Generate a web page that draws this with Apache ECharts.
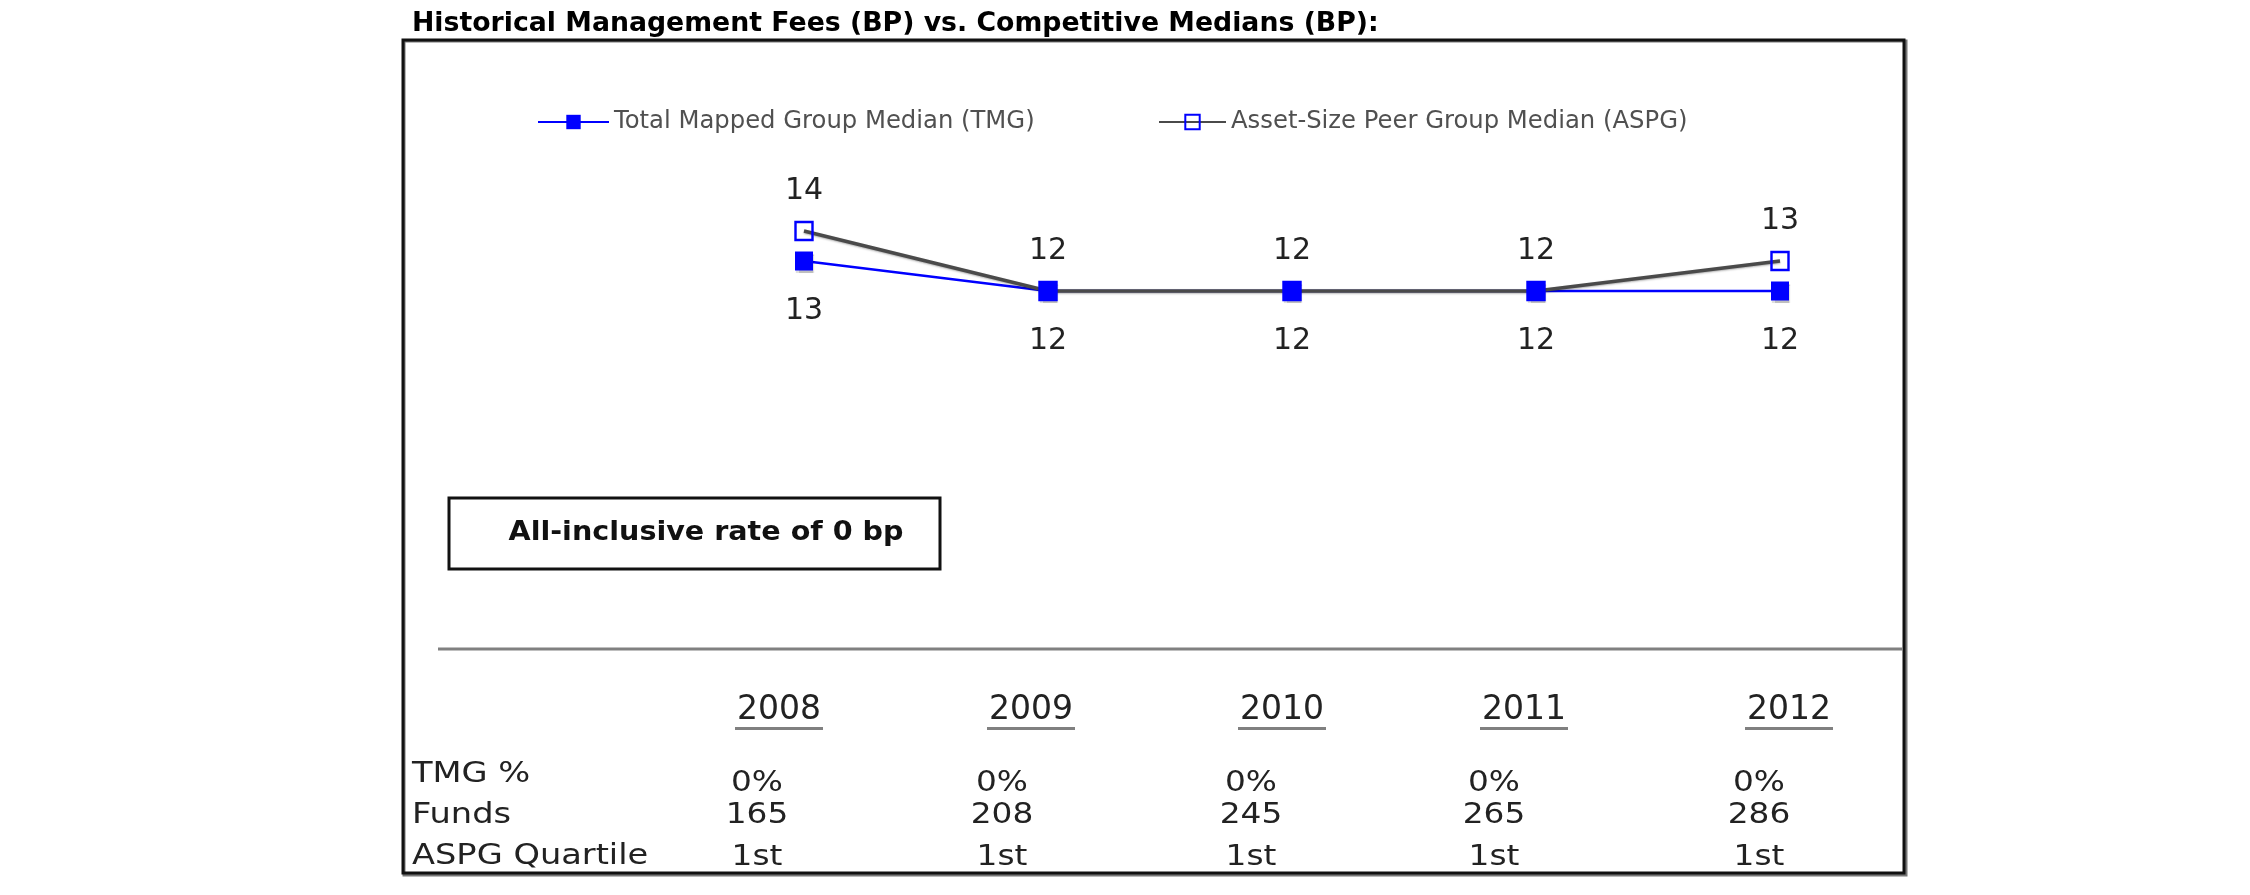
<!DOCTYPE html>
<html>
<head>
<meta charset="utf-8">
<script src="https://cdn.jsdelivr.net/npm/echarts@6/dist/echarts.min.js"></script>
<style>
html,body{margin:0;padding:0;background:#fff;}
#chart{width:2250px;height:895px;}
</style>
</head>
<body>
<div id="chart"></div>
<script>
// ---- data ----
const years = ['2008', '2009', '2010', '2011', '2012'];
const tmgMedian = [13, 12, 12, 12, 12];
const aspgMedian = [14, 12, 12, 12, 13];
const rowLabels = ['TMG %', 'Funds', 'ASPG Quartile'];
const tmgPct = ['0%', '0%', '0%', '0%', '0%'];
const funds = ['165', '208', '245', '265', '286'];
const aspgQuartile = ['1st', '1st', '1st', '1st', '1st'];
const titleText = 'Historical Management Fees (BP) vs. Competitive Medians (BP):';
const noteText = 'All-inclusive rate of 0 bp';
const tmgName = 'Total Mapped Group Median (TMG)';
const aspgName = 'Asset-Size Peer Group Median (ASPG)';

// ---- layout ----
const FONT = 'DejaVu Sans, Verdana, sans-serif';
const headerX = [779, 1031, 1282, 1524, 1789];
const valueX = [757, 1002, 1251, 1494, 1759];
const rowY = [783, 815, 857];
const labelRowY = [774, 815, 856];

const graphic = [];
// outer frame shadow + frame
graphic.push({type: 'rect', shape: {x: 404, y: 41, width: 1502, height: 834},
  style: {fill: 'none', stroke: '#777', lineWidth: 3}, z: 0});
graphic.push({type: 'rect', shape: {x: 403, y: 40, width: 1501, height: 833},
  style: {fill: 'none', stroke: '#111', lineWidth: 3}, z: 1});
// title
graphic.push({type: 'text', x: 412, y: 24, scaleX: 0.99,
  style: {text: titleText, font: 'bold 27px ' + FONT, fill: '#000', align: 'left', verticalAlign: 'middle'}});
// note box
graphic.push({type: 'rect', shape: {x: 449, y: 498, width: 491, height: 71},
  style: {fill: '#fff', stroke: '#111', lineWidth: 3}});
graphic.push({type: 'text', x: 706, y: 533, scaleX: 1.1,
  style: {text: noteText, font: 'bold 26px ' + FONT, fill: '#111', align: 'center', verticalAlign: 'middle'}});
// separator
graphic.push({type: 'line', shape: {x1: 438, y1: 649, x2: 1902, y2: 649},
  style: {stroke: '#808080', lineWidth: 3}});
// year headers with underline
years.forEach((y, i) => {
  graphic.push({type: 'text', x: headerX[i], y: 710,
    style: {text: y, font: '33px ' + FONT, fill: '#222', align: 'center', verticalAlign: 'middle'}});
  graphic.push({type: 'rect', shape: {x: headerX[i] - 44, y: 727, width: 88, height: 3},
    style: {fill: '#808080'}});
});
// row labels
rowLabels.forEach((t, r) => {
  graphic.push({type: 'text', x: 412, y: labelRowY[r], scaleX: 1.16,
    style: {text: t, font: '29px ' + FONT, fill: '#222', align: 'left', verticalAlign: 'middle'}});
});
[tmgPct, funds, aspgQuartile].forEach((row, r) => {
  row.forEach((v, i) => {
    graphic.push({type: 'text', x: valueX[i], y: rowY[r], scaleX: 1.13,
      style: {text: v, font: '29px ' + FONT, fill: '#222', align: 'center', verticalAlign: 'middle'}});
  });
});

const chart = echarts.init(document.getElementById('chart'), null, {renderer: 'canvas'});
chart.setOption({
  animation: false,
  backgroundColor: '#fff',
  grid: {left: 804, right: 470, top: 201, height: 120},
  xAxis: {type: 'category', data: years, boundaryGap: false, show: false},
  yAxis: {type: 'value', min: 11, max: 15, show: false},
  legend: [
    {data: [tmgName], left: 532, top: 105, itemWidth: 71, itemHeight: 18, itemGap: 0,
     textStyle: {fontFamily: FONT, fontSize: 24.3, color: '#505050'}},
    {data: [aspgName], left: 1153, top: 105, itemWidth: 67, itemHeight: 18, itemGap: 0,
     textStyle: {fontFamily: FONT, fontSize: 24.3, color: '#505050'}}
  ],
  graphic: graphic,
  series: [
    {
      name: tmgName, type: 'line', data: tmgMedian,
      symbol: 'rect', symbolSize: [18, 19],
      lineStyle: {color: '#0000ff', width: 2.5},
      itemStyle: {color: '#0000ff', shadowColor: 'rgba(0,0,0,0.25)', shadowOffsetX: 1, shadowOffsetY: 2, shadowBlur: 1},
      label: {show: true, position: 'bottom', distance: 26, fontFamily: FONT, fontSize: 30, color: '#222'}
    },
    {
      name: aspgName, type: 'line', data: aspgMedian,
      symbol: 'rect', symbolSize: [17, 18],
      lineStyle: {color: '#4a4a4a', width: 3.5, shadowColor: 'rgba(0,0,0,0.3)', shadowOffsetY: 1, shadowBlur: 2},
      itemStyle: {color: 'rgba(0,0,0,0)', borderColor: '#0000ff', borderWidth: 2.5},
      label: {show: true, position: 'top', distance: 15, fontFamily: FONT, fontSize: 30, color: '#222'}
    }
  ]
});
</script>
</body>
</html>
